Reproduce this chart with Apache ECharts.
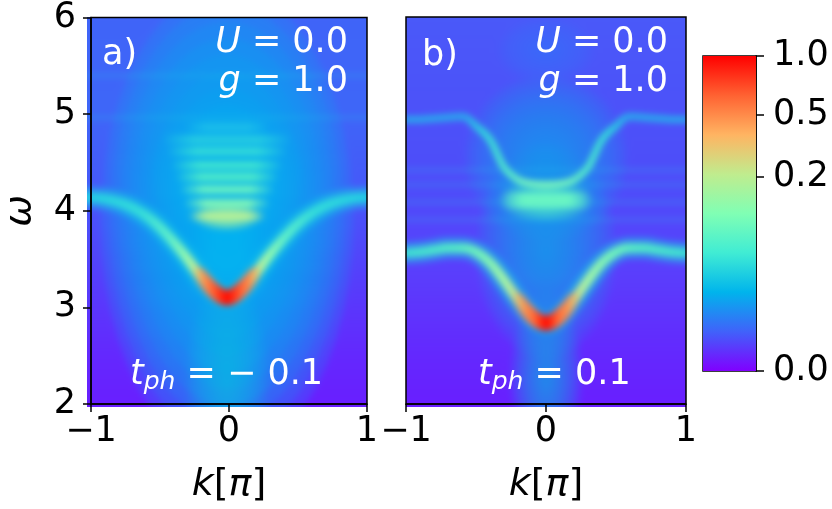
<!DOCTYPE html>
<html>
<head>
<meta charset="utf-8">
<script src="https://cdn.jsdelivr.net/npm/echarts@6/dist/echarts.min.js"></script>
<style>
  html, body { margin: 0; padding: 0; background: #fff; }
  #stage { position: relative; width: 832px; height: 509px; overflow: hidden; }
  .clip { position: absolute; overflow: hidden; }
  .fx { position: absolute; filter: blur(3px); }
  #overlay { position: absolute; left: 0; top: 0; width: 832px; height: 509px; }
</style>
</head>
<body>
<div id="stage">
  <div class="clip" style="left:87px;top:17px;width:280px;height:390px"><div class="fx" id="fxA"></div></div>
  <div class="clip" style="left:406px;top:17px;width:280px;height:390px"><div class="fx" id="fxB"></div></div>
  <div id="overlay"></div>
</div>
<script>
// momentum grid, units of pi
var kGrid = [-1, -0.9, -0.8, -0.7, -0.6, -0.5, -0.4, -0.3, -0.2, -0.1, 0, 0.1, 0.2, 0.3, 0.4, 0.5, 0.6, 0.7, 0.8, 0.9, 1];

// a) t_ph = -0.1 : main polaron band (peak position, read off the picture)
var bandA = [4.15, 4.14, 4.11, 4.06, 3.98, 3.87, 3.72, 3.55, 3.36, 3.20, 3.12, 3.20, 3.36, 3.55, 3.72, 3.87, 3.98, 4.06, 4.11, 4.14, 4.15];
// a) stripes of the continuum: energy and half width in k
var stripeA = [3.96, 4.09, 4.23, 4.36, 4.48, 4.62, 4.74, 4.87];
var stripeHalfA = [0.25, 0.28, 0.31, 0.34, 0.37, 0.40, 0.43, 0.27];
// a) faint lines across the whole zone
var flatA = [4.97, 5.40];
// a) diffuse weight: k, omega, half width k, half width omega
var hazeA = [[0, 3.9, 0.9, 2.4], [0, 2.3, 0.3, 1.0], [0, 4.4, 0.55, 0.75], [0, 3.5, 0.35, 0.45], [0, 3.95, 0.24, 0.14]];

// b) t_ph = 0.1
var bandB = [3.58, 3.59, 3.61, 3.63, 3.63, 3.59, 3.48, 3.30, 3.10, 2.93, 2.86, 2.93, 3.10, 3.30, 3.48, 3.59, 3.63, 3.63, 3.61, 3.59, 3.58];
var upperB = [4.95, 4.95, 4.96, 4.97, 4.98, 4.88, 4.74, 4.46, 4.33, 4.29, 4.28, 4.29, 4.33, 4.46, 4.74, 4.88, 4.98, 4.97, 4.96, 4.95, 4.95];
var stripeB = [4.12];
var stripeHalfB = [0.27];
var flatB = [4.43, 4.28, 4.10, 3.92];
var hazeB = [[0, 4.55, 0.58, 0.85], [0, 3.6, 0.5, 1.1], [0, 2.3, 0.26, 0.9], [0, 4.12, 0.34, 0.22], [0, 5.65, 0.35, 0.35]];

// colour bar
var cbarTicks = [0.0, 0.2, 0.5, 1.0];
var cbarGamma = 0.3;
var cbarColors = ['#8000ff', '#4062fa', '#00b4ec', '#40ecd4', '#80ffb4', '#c0ec8e', '#ffb462', '#ff6232', '#ff0000'];

var PAD = 12, PW = 280, PH = 390;
var FONT = 'DejaVu Sans';

function clearOf(c) {
  var m = c.match(/rgba?\(([^)]+)\)/);
  if (m) { var p = m[1].split(','); return 'rgba(' + p[0] + ',' + p[1] + ',' + p[2] + ',0)'; }
  var h = c.replace('#', '');
  return 'rgba(' + parseInt(h.substr(0, 2), 16) + ',' + parseInt(h.substr(2, 2), 16) + ',' + parseInt(h.substr(4, 2), 16) + ',0)';
}
function alphaOf(c) { return parseFloat(c.match(/,([\d.]+)\)$/)[1]); }
function withAlpha(c, a) { return c.replace(/,([\d.]+)\)$/, ',' + a.toFixed(3) + ')'); }
function grad(x2, y2, stops) {
  return new echarts.graphic.LinearGradient(0, 0, x2, y2, stops.map(function (s) { return { offset: s[0], color: s[1] }; }));
}
// left half of a symmetric gradient -> full gradient
function mirror(stops) {
  var out = stops.slice();
  for (var i = stops.length - 2; i >= 0; i--) out.push([1 - stops[i][0], stops[i][1]]);
  return out;
}
function pairs(xs, ys) { return xs.map(function (x, i) { return [x, ys[i]]; }); }

function curve(pts, color, width, smooth) {
  return {
    type: 'line', data: pts, symbol: 'none', silent: true,
    smooth: smooth == null ? 0.4 : smooth,
    lineStyle: { color: color, width: width, cap: 'round', join: 'round' }
  };
}
// soft elliptic glow: stacked translucent ellipses, softened by the css blur
function haze(list, colors) {
  return {
    type: 'custom', data: list, silent: true,
    renderItem: function (params, api) {
      var g = list[params.dataIndex];
      var c = api.coord([g[0], g[1]]);
      var rx = Math.abs(api.size([g[2], 0])[0]);
      var ry = Math.abs(api.size([0, g[3]])[1]);
      var col = colors[params.dataIndex];
      var N = 14, beta = 1 - Math.pow(1 - alphaOf(col), 1 / N);
      var children = [];
      for (var i = N; i >= 1; i--) {
        var s = i / N, pts = [];
        for (var j = 0; j < 48; j++) {
          var t = j / 48 * 2 * Math.PI;
          pts.push([c[0] + rx * s * Math.cos(t), c[1] + ry * s * Math.sin(t)]);
        }
        children.push({ type: 'polygon', shape: { points: pts }, style: { fill: withAlpha(col, beta) } });
      }
      return { type: 'group', children: children };
    }
  };
}
function stripes(ws, halves, colors, width) {
  return ws.map(function (w, i) {
    var c = colors[i];
    return curve([[-halves[i], w], [halves[i], w]], grad(1, 0, mirror([[0, clearOf(c)], [0.25, c], [0.5, c]])), width, false);
  });
}
function flats(ws, color, width) {
  return ws.map(function (w) { return curve([[-1.2, w], [1.2, w]], color, width, false); });
}
function peak(band, stops, width) {
  var pts = pairs(kGrid, band).filter(function (p) { return Math.abs(p[0]) <= 0.21; });
  return curve(pts, grad(1, 0, mirror(stops)), width);
}

function drawPanel(id, bg, series) {
  var el = document.getElementById(id);
  el.style.left = -PAD + 'px';
  el.style.top = -PAD + 'px';
  el.style.width = (PW + 2 * PAD) + 'px';
  el.style.height = (PH + 2 * PAD) + 'px';
  var chart = echarts.init(el);
  var dk = 2 * PAD / PW, dw = 4 * PAD / PH;
  chart.setOption({
    animation: false,
    backgroundColor: 'transparent',
    grid: { left: 0, right: 0, top: 0, bottom: 0 },
    xAxis: { type: 'value', min: -1 - dk, max: 1 + dk, show: false },
    yAxis: { type: 'value', min: 2 - dw, max: 6 + dw, show: false },
    graphic: [{ type: 'rect', z: 0, silent: true, shape: { x: 0, y: 0, width: PW + 2 * PAD, height: PH + 2 * PAD }, style: { fill: grad(0, 1, bg) } }],
    series: series
  });
}

// panel a
drawPanel('fxA',
  [[0, '#4064f8'], [0.25, '#3e66f8'], [0.45, '#4658f9'], [0.65, '#5440fb'], [0.85, '#6428fe'], [1, '#6a1cff']],
  [].concat(
    [haze(hazeA, ['rgba(0,176,238,0.95)', 'rgba(10,190,235,0.7)', 'rgba(20,190,235,0.65)', 'rgba(8,192,238,0.6)', 'rgba(160,245,165,0.9)'])],
    flats(flatA, 'rgba(30,195,232,0.25)', 4),
    stripes(stripeA, stripeHalfA, ['#b4f098', '#7cf4ba', '#64f0c4', '#4ceaca', '#3ce2d2', '#30d8da', '#24cae2', '#1abcea'], 9),
    [curve(pairs(kGrid, bandA), 'rgba(20,200,230,0.45)', 22),
     curve(pairs(kGrid, bandA), grad(1, 0, mirror([[0, '#20cce4'], [0.2, '#34dcda'], [0.3, '#5ceeca'], [0.36, '#94f8ae'], [0.41, '#dce486'], [0.45, '#ff8a48'], [0.5, '#ff2000']])), 10),
     peak(bandA, [[0, 'rgba(255,140,70,0)'], [0.25, '#ff7840'], [0.5, '#ff0800']], 15)]
  ));

// panel b
drawPanel('fxB',
  [[0, '#4a5af9'], [0.25, '#4c52f9'], [0.45, '#4e4cfa'], [0.65, '#5a3efc'], [0.85, '#6428fe'], [1, '#6a1cff']],
  [].concat(
    [haze(hazeB, ['rgba(25,150,242,0.85)', 'rgba(15,165,240,0.8)', 'rgba(10,184,236,0.7)', 'rgba(90,242,200,0.85)', 'rgba(50,140,245,0.45)'])],
    flats(flatB, 'rgba(40,200,230,0.22)', 4),
    stripes(stripeB, stripeHalfB, ['#68f4c4'], 15),
    [curve(pairs(kGrid, upperB), grad(1, 0, mirror([[0, 'rgba(30,195,232,0.75)'], [0.22, 'rgba(30,195,232,0.75)'], [0.28, '#30d4dc'], [0.36, '#50e6cc'], [0.42, '#70f0c0'], [0.5, '#78f2be']])), 7),
     curve(pairs(kGrid, bandB), 'rgba(20,200,230,0.45)', 22),
     curve(pairs(kGrid, bandB), grad(1, 0, mirror([[0, '#3cdcd4'], [0.2, '#54e8c6'], [0.28, '#74f2ba'], [0.36, '#a4f4a6'], [0.42, '#e0d080'], [0.46, '#ff7040'], [0.5, '#ff1800']])), 10),
     peak(bandB, [[0, 'rgba(255,140,70,0)'], [0.3, '#ff7840'], [0.5, '#ff0800']], 15)]
  ));

// axes, annotations and colour bar on top
var black = { color: '#000', width: 1.5 };
var cbarPos = cbarTicks.map(function (t) { return Math.pow(t, cbarGamma); });
function kAxis(g) {
  return {
    gridIndex: g, type: 'value', min: -1, max: 1, interval: 1,
    axisLine: { show: true, onZero: false, lineStyle: black },
    axisTick: { show: true, length: 8, lineStyle: black },
    splitLine: { show: false },
    axisLabel: { color: '#000', fontFamily: FONT, fontSize: 35, margin: 10, showMinLabel: true, showMaxLabel: true,
      formatter: function (v) { return (v < 0 ? '\u2212' : '') + Math.abs(v); } },
    name: '{i|k}[{i|\u03c0}]', nameLocation: 'middle', nameGap: 62,
    nameTextStyle: { color: '#000', fontFamily: FONT, fontSize: 38,
      rich: { i: { fontStyle: 'italic', fontFamily: FONT, fontSize: 38, color: '#000' } } }
  };
}
function label(x, y, text, align) {
  return {
    type: 'text', x: x, y: y, silent: true, z: 10,
    style: {
      text: text, fill: '#fff', fontFamily: FONT, fontSize: 35, align: align, verticalAlign: 'middle', lineHeight: 40,
      rich: {
        i: { fontStyle: 'italic', fontFamily: FONT, fontSize: 35, fill: '#fff', lineHeight: 40 },
        s: { fontStyle: 'italic', fontFamily: FONT, fontSize: 25, fill: '#fff', verticalAlign: 'bottom', lineHeight: 20 }
      }
    }
  };
}

var overlay = echarts.init(document.getElementById('overlay'));
overlay.setOption({
  animation: false,
  backgroundColor: 'transparent',
  grid: [
    { left: 87, top: 17, width: 280, height: 390, show: true, borderColor: '#000', borderWidth: 1.5 },
    { left: 406, top: 17, width: 280, height: 390, show: true, borderColor: '#000', borderWidth: 1.5 },
    { left: 703, top: 56, width: 53, height: 315, show: true, borderColor: '#000', borderWidth: 1.5 }
  ],
  xAxis: [kAxis(0), kAxis(1), { gridIndex: 2, type: 'value', min: 0, max: 1, show: false }],
  yAxis: [
    { gridIndex: 0, type: 'value', min: 2, max: 6, interval: 1,
      axisLine: { show: true, onZero: false, lineStyle: black },
      axisTick: { show: true, length: 8, lineStyle: black },
      splitLine: { show: false },
      axisLabel: { color: '#000', fontFamily: FONT, fontSize: 35, margin: 15 },
      name: '\u03c9', nameLocation: 'middle', nameGap: 52,
      nameTextStyle: { color: '#000', fontFamily: FONT, fontSize: 38, fontStyle: 'italic' } },
    { gridIndex: 1, type: 'value', min: 2, max: 6, show: false },
    { gridIndex: 2, type: 'value', min: 0, max: 1, position: 'right',
      axisLine: { show: true, onZero: false, lineStyle: black },
      axisTick: { show: true, length: 8, lineStyle: black, customValues: cbarPos },
      splitLine: { show: false },
      axisLabel: { color: '#000', fontFamily: FONT, fontSize: 35, margin: 17, customValues: cbarPos,
        formatter: function (v) {
          var best = 0;
          cbarPos.forEach(function (p, i) { if (Math.abs(p - v) < Math.abs(cbarPos[best] - v)) best = i; });
          return cbarTicks[best].toFixed(1);
        } } }
  ],
  series: [
    { type: 'line', data: [], xAxisIndex: 0, yAxisIndex: 0 },
    { type: 'line', data: [], xAxisIndex: 1, yAxisIndex: 1 },
    { type: 'custom', xAxisIndex: 2, yAxisIndex: 2, data: [[0, 0]], silent: true,
      renderItem: function (params, api) {
        var p0 = api.coord([0, 1]), p1 = api.coord([1, 0]);
        var stops = cbarColors.slice().reverse().map(function (c, i) { return [i / (cbarColors.length - 1), c]; });
        return { type: 'rect', shape: { x: p0[0], y: p0[1], width: p1[0] - p0[0], height: p1[1] - p0[1] }, style: { fill: grad(0, 1, stops) } };
      } }
  ],
  graphic: [
    label(102, 55, 'a)', 'left'),
    label(348, 43, '{i|U} = 0.0', 'right'),
    label(348, 82, '{i|g} = 1.0', 'right'),
    label(130, 375, '{i|t}{s|ph} = \u2212 0.1', 'left'),
    label(422, 56, 'b)', 'left'),
    label(668, 43, '{i|U} = 0.0', 'right'),
    label(668, 82, '{i|g} = 1.0', 'right'),
    label(478, 375, '{i|t}{s|ph} = 0.1', 'left')
  ]
});
</script>
</body>
</html>
